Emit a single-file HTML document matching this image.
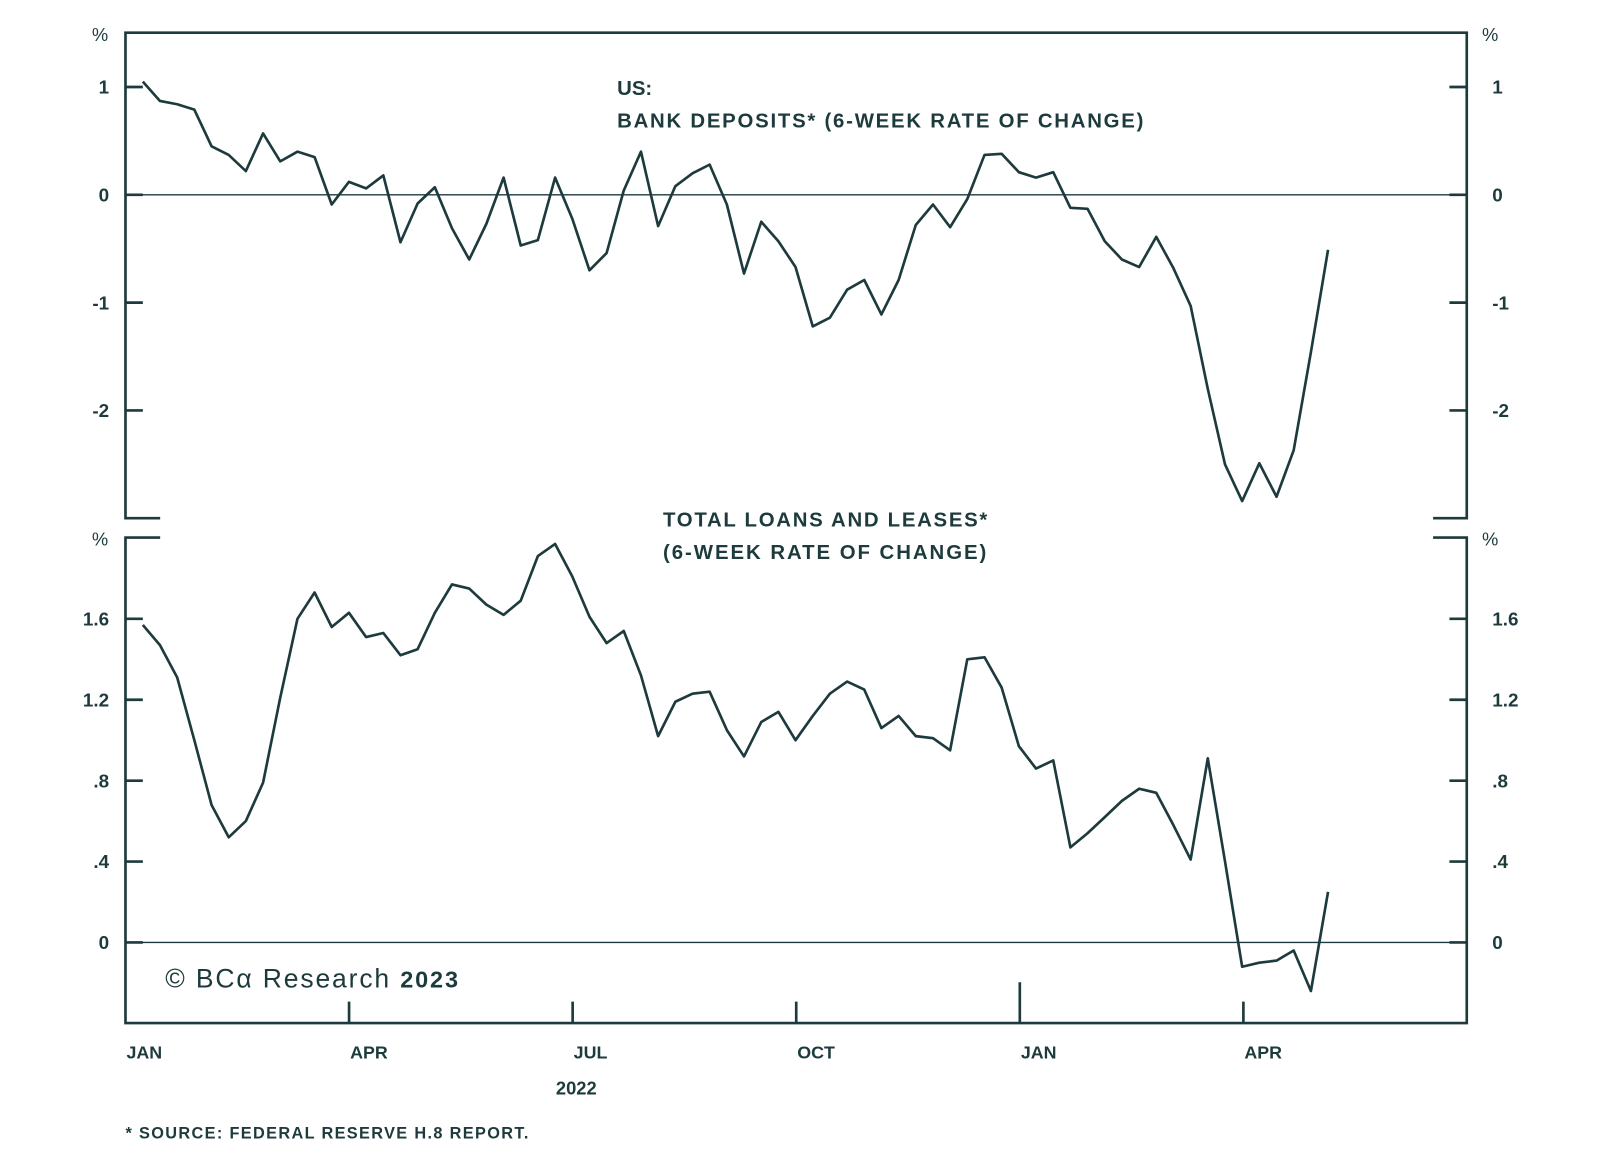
<!DOCTYPE html>
<html><head><meta charset="utf-8"><style>
html,body{margin:0;padding:0;background:#fff;}
svg{display:block;}
text{font-family:"Liberation Sans",sans-serif;fill:#1d3a3c;}
</style></head><body>
<svg id="chart" width="1600" height="1174" viewBox="0 0 1568.6 1151" xmlns="http://www.w3.org/2000/svg">
<g id="frame" stroke="#1d3a3c" stroke-width="2.6" fill="none">
  <path d="M157,508 H123 V32 H1438 V508 H1405"/>
  <path d="M157,527 H123 V1003 H1438 V527 H1405"/>
</g>
<g id="axes"></g>
<g id="series"></g>
<text x="605" y="93" font-size="20" font-weight="bold">US:</text>
<text x="605" y="125" font-size="20" font-weight="bold" textLength="516">BANK DEPOSITS* (6-WEEK RATE OF CHANGE)</text>
<text x="650" y="516" font-size="20" font-weight="bold" textLength="318">TOTAL LOANS AND LEASES*</text>
<text x="650" y="548" font-size="20" font-weight="bold" textLength="317">(6-WEEK RATE OF CHANGE)</text>
<text x="162" y="968" font-size="26" font-family="Liberation Serif, serif" textLength="287">© BCα Research <tspan font-family="Liberation Sans, sans-serif" font-weight="bold" font-size="23">2023</tspan></text>
<text x="565" y="1073" font-size="18" font-weight="bold" text-anchor="middle">2022</text>
<text x="123" y="1116" font-size="16" font-weight="bold" textLength="395">* SOURCE: FEDERAL RESERVE H.8 REPORT.</text>
</svg>
<script>
const topTicks = [1, 0, -1, -2];
const topTickLabels = ["1", "0", "-1", "-2"];
const botTicks = [1.6, 1.2, 0.8, 0.4, 0];
const botTickLabels = ["1.6", "1.2", ".8", ".4", "0"];
const monthLabels = ["JAN", "APR", "JUL", "OCT", "JAN", "APR"];
const deposits = [1.05,0.87,0.84,0.79,0.45,0.37,0.22,0.57,0.31,0.40,0.35,-0.09,0.12,0.06,0.18,-0.44,-0.08,0.07,-0.31,-0.60,-0.27,0.16,-0.47,-0.42,0.16,-0.22,-0.70,-0.54,0.04,0.40,-0.29,0.08,0.20,0.28,-0.09,-0.73,-0.25,-0.43,-0.67,-1.22,-1.14,-0.88,-0.79,-1.11,-0.79,-0.28,-0.09,-0.30,-0.04,0.37,0.38,0.21,0.16,0.21,-0.12,-0.13,-0.43,-0.60,-0.67,-0.39,-0.68,-1.03,-1.80,-2.50,-2.84,-2.49,-2.80,-2.37,-1.46,-0.51];
const loans = [1.57,1.47,1.31,1.00,0.68,0.52,0.60,0.79,1.21,1.60,1.73,1.56,1.63,1.51,1.53,1.42,1.45,1.63,1.77,1.75,1.67,1.62,1.69,1.91,1.97,1.81,1.61,1.48,1.54,1.32,1.02,1.19,1.23,1.24,1.05,0.92,1.09,1.14,1.00,1.12,1.23,1.29,1.25,1.06,1.12,1.02,1.01,0.95,1.40,1.41,1.26,0.97,0.86,0.90,0.47,0.54,0.62,0.70,0.76,0.74,0.58,0.41,0.91,0.40,-0.12,-0.10,-0.09,-0.04,-0.24,0.25];

const NS = "http://www.w3.org/2000/svg";
const C = "#1d3a3c";
const xWeek = i => 140 + i * (1302 - 140) / 69;
const yTop = v => 191 - v * 105.7;
const yBot = v => 924 - v * 198.3;
const xQuarter = q => 123 + q * 219.2;
const axes = document.getElementById("axes");
const series = document.getElementById("series");
function mk(tag, attrs, parent) {
  const e = document.createElementNS(NS, tag);
  for (const k in attrs) e.setAttribute(k, attrs[k]);
  parent.appendChild(e);
  return e;
}
let z1 = mk("line", {x1:123, x2:1438, y1:yTop(0), y2:yTop(0), stroke:C, "stroke-width":1.3}, axes);


let z2 = mk("line", {x1:123, x2:1438, y1:yBot(0), y2:yBot(0), stroke:C, "stroke-width":1.3}, axes);


function yAxis(ticks, labels, sc, prefix, pctY) {
  ticks.forEach((t, i) => {
    const y = sc(t);
    mk("line", {x1:123, x2:140, y1:y, y2:y, stroke:C, "stroke-width":2.6}, axes);
    mk("line", {x1:1421, x2:1438, y1:y, y2:y, stroke:C, "stroke-width":2.6}, axes);
    const l = mk("text", {x:107, y:y+6.5, "font-size":18.5, "font-weight":"bold", "text-anchor":"end"}, axes);
    l.textContent = labels[i];
    
    
    const r = mk("text", {x:1463, y:y+6.5, "font-size":18.5, "font-weight":"bold"}, axes);
    r.textContent = labels[i];
    
    
  });
  const pl = mk("text", {x:90, y:pctY, "font-size":18}, axes);
  pl.textContent = "%";
  
  
  const pr = mk("text", {x:1453, y:pctY, "font-size":18}, axes);
  pr.textContent = "%";
  
  
}
yAxis(topTicks, topTickLabels, yTop, "top", 40);
yAxis(botTicks, botTickLabels, yBot, "bottom", 535);
monthLabels.forEach((m, q) => {
  const x = xQuarter(q);
  if (q > 0) mk("line", {x1:x, x2:x, y1:1003, y2:q === 4 ? 963 : 982, stroke:C, "stroke-width":2.6}, axes);
  const t = mk("text", {x:x+1, y:1038, "font-size":17.5, "font-weight":"bold"}, axes);
  t.textContent = m;
  
  
});
function line(data, sc, name) {
  const d = data.map((v, i) => (i ? "L" : "M") + xWeek(i).toFixed(1) + "," + sc(v).toFixed(1)).join(" ");
  const p = mk("path", {d:d, fill:"none", stroke:C, "stroke-width":2.6, "stroke-linejoin":"round"}, series);
  
  
}
line(deposits, yTop, "bank-deposits-line");
line(loans, yBot, "loans-leases-line");
</script>
</body></html>
